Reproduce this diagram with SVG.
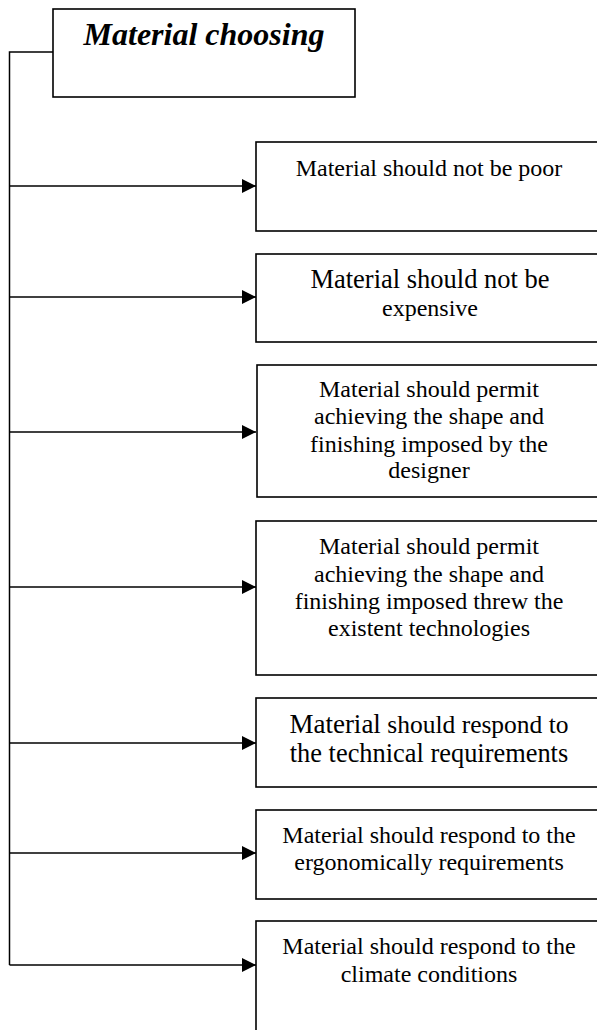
<svg xmlns="http://www.w3.org/2000/svg" width="597" height="1030" viewBox="0 0 597 1030">
  <style>
    .box { fill: #ffffff; stroke: #000000; stroke-width: 1.6; }
    .conn { fill: none; stroke: #000000; stroke-width: 1.5; }
    .t { font-family: "Liberation Serif", "Times New Roman", serif; font-size: 24px; fill: #000000; text-anchor: middle; }
    .title { font-family: "Liberation Serif", "Times New Roman", serif; font-size: 32px; font-weight: bold; font-style: italic; fill: #000000; text-anchor: middle; }
  </style>
  <defs>
    <marker id="arrow" markerUnits="userSpaceOnUse" markerWidth="14" markerHeight="14" refX="14" refY="7" orient="auto">
      <path d="M0,0 L14,7 L0,14 Z" fill="#000000"/>
    </marker>
  </defs>
  <rect width="597" height="1030" fill="#ffffff"/>

  <g id="connectors">
    <polyline class="conn" points="53,52 9.5,52 9.5,965"/>
    <line class="conn" x1="9.5" y1="186" x2="256" y2="186" marker-end="url(#arrow)"/>
    <line class="conn" x1="9.5" y1="297" x2="256" y2="297" marker-end="url(#arrow)"/>
    <line class="conn" x1="9.5" y1="432" x2="256" y2="432" marker-end="url(#arrow)"/>
    <line class="conn" x1="9.5" y1="587" x2="256" y2="587" marker-end="url(#arrow)"/>
    <line class="conn" x1="9.5" y1="743" x2="256" y2="743" marker-end="url(#arrow)"/>
    <line class="conn" x1="9.5" y1="853" x2="256" y2="853" marker-end="url(#arrow)"/>
    <line class="conn" x1="9.5" y1="965" x2="256" y2="965" marker-end="url(#arrow)"/>
  </g>

  <g id="title">
    <rect class="box" x="53" y="9" width="302" height="88"/>
    <text class="title" x="204" y="45">Material choosing</text>
  </g>

  <g id="node-poor">
    <rect class="box" x="256" y="142" width="346" height="89"/>
    <text class="t" x="429" y="176">Material should not be poor</text>
  </g>

  <g id="node-expensive">
    <rect class="box" x="256" y="254" width="346" height="88"/>
    <text class="t" x="430" y="288" style="font-size:26.5px">Material should not be</text>
    <text class="t" x="430" y="316">expensive</text>
  </g>

  <g id="node-designer">
    <rect class="box" x="257" y="365" width="345" height="132"/>
    <text class="t" x="429" y="397">Material should permit</text>
    <text class="t" x="429" y="424">achieving the shape and</text>
    <text class="t" x="429" y="452">finishing imposed by the</text>
    <text class="t" x="429" y="478">designer</text>
  </g>

  <g id="node-technologies">
    <rect class="box" x="256" y="521" width="346" height="154"/>
    <text class="t" x="429" y="554">Material should permit</text>
    <text class="t" x="429" y="582">achieving the shape and</text>
    <text class="t" x="429" y="609">finishing imposed threw the</text>
    <text class="t" x="429" y="636">existent technologies</text>
  </g>

  <g id="node-technical">
    <rect class="box" x="256" y="698" width="346" height="89"/>
    <text class="t" x="429" y="733"><tspan style="font-size:27px">Material</tspan><tspan style="font-size:25.5px"> should respond to</tspan></text>
    <text class="t" x="429" y="762" style="font-size:26.4px">the technical requirements</text>
  </g>

  <g id="node-ergonomic">
    <rect class="box" x="256" y="810" width="346" height="89"/>
    <text class="t" x="429" y="843">Material should respond to the</text>
    <text class="t" x="429" y="870">ergonomically requirements</text>
  </g>

  <g id="node-climate">
    <rect class="box" x="256" y="921" width="346" height="130"/>
    <text class="t" x="429" y="954">Material should respond to the</text>
    <text class="t" x="429" y="982">climate conditions</text>
  </g>
</svg>
